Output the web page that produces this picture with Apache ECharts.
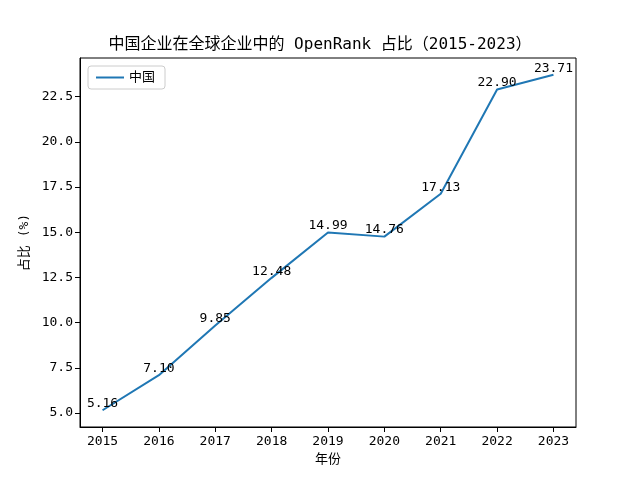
<!DOCTYPE html>
<html><head><meta charset="utf-8">
<script src="https://cdn.jsdelivr.net/npm/echarts@6/dist/echarts.min.js"></script>
<style>html,body{margin:0;padding:0;background:#fff}#c{width:640px;height:480px}</style>
</head><body><div id="c"></div>
<script>
const years = [2015, 2016, 2017, 2018, 2019, 2020, 2021, 2022, 2023];
const shares = [5.16, 7.10, 9.85, 12.48, 14.99, 14.76, 17.13, 22.90, 23.71];
const yTicks = [5.0, 7.5, 10.0, 12.5, 15.0, 17.5, 20.0, 22.5];
const seriesName = '中国';
const titleText = '中国企业在全球企业中的 OpenRank 占比（2015-2023）';

const FONT = '"DejaVu Sans Mono", "Noto Sans CJK SC", sans-serif';
const chart = echarts.init(document.getElementById('c'), null, {renderer: 'canvas'});
chart.setOption({
  animation: false,
  backgroundColor: '#fff',
  title: {text: titleText, left: 'center', top: 32, textStyle: {fontFamily: FONT, fontSize: 16, fontWeight: 'normal', color: '#000'}},
  legend: {
    data: [seriesName], left: 88, top: 66, orient: 'vertical',
    borderColor: '#cccccc', borderWidth: 1, borderRadius: 3, padding: [5, 10, 5, 8],
    itemWidth: 28, itemHeight: 2, itemGap: 5, icon: 'rect',
    textStyle: {fontFamily: FONT, fontSize: 13, color: '#000'}
  },
  grid: {left: 80, right: 64, top: 58, bottom: 53, show: true, borderColor: '#000', borderWidth: 1, containLabel: false},
  xAxis: {
    type: 'value', min: 2014.6, max: 2023.4,
    name: '年份', nameLocation: 'middle', nameGap: 25,
    nameTextStyle: {fontFamily: FONT, fontSize: 13, color: '#000'},
    axisLine: {show: true, onZero: false, lineStyle: {color: '#000'}},
    axisTick: {show: true, length: 5, customValues: years, lineStyle: {color: '#000'}},
    axisLabel: {customValues: years, fontFamily: FONT, fontSize: 13, color: '#000', margin: 8, formatter: v => String(Math.round(v))},
    splitLine: {show: false}
  },
  yAxis: {
    type: 'value', min: 4.2325, max: 24.6375,
    name: '占比 (%)', nameLocation: 'middle', nameGap: 38, nameRotate: 90,
    nameTextStyle: {fontFamily: FONT, fontSize: 13, color: '#000'},
    axisLine: {show: true, onZero: false, lineStyle: {color: '#000'}},
    axisTick: {show: true, length: 5, customValues: yTicks, lineStyle: {color: '#000'}},
    axisLabel: {customValues: yTicks, fontFamily: FONT, fontSize: 13, color: '#000', margin: 7, formatter: v => v.toFixed(1)},
    splitLine: {show: false}
  },
  series: [{
    name: seriesName, type: 'line',
    data: years.map((y, i) => [y, shares[i]]),
    showSymbol: true, symbol: 'circle', symbolSize: 0.01,
    lineStyle: {color: '#1f77b4', width: 2}, itemStyle: {color: '#1f77b4'},
    label: {show: true, position: 'top', distance: 0, fontFamily: FONT, fontSize: 13, color: '#000', formatter: p => p.value[1].toFixed(2)},
    labelLayout: {hideOverlap: false}
  }]
});
</script></body></html>
